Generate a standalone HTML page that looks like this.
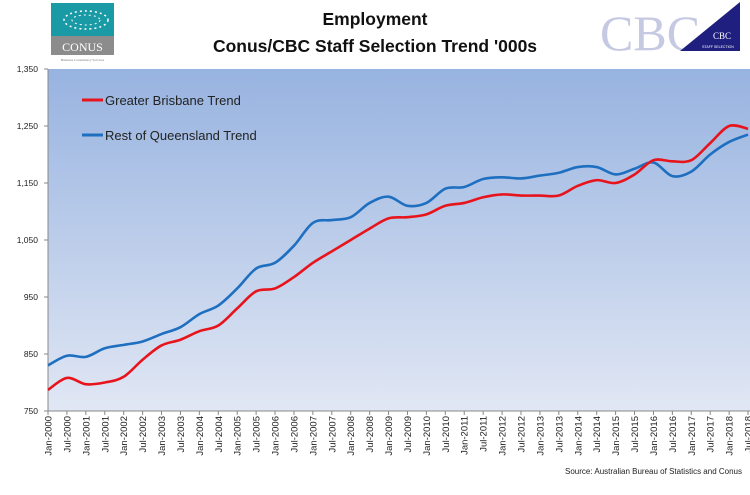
<!DOCTYPE html>
<html><head><meta charset="utf-8"><style>
body{margin:0;width:750px;height:490px;background:#fff;overflow:hidden;font-family:"Liberation Sans",sans-serif}
</style></head><body>
<svg id="s" width="750" height="490" xmlns="http://www.w3.org/2000/svg">
<defs>
<linearGradient id="g" x1="0" y1="0" x2="0" y2="1">
<stop offset="0" stop-color="#97b3e0"/><stop offset="1" stop-color="#e1e7f4"/>
</linearGradient>
</defs>
<rect x="48" y="69" width="702" height="342" fill="url(#g)"/>
<line x1="48" y1="69" x2="48" y2="411" stroke="#888" stroke-width="1"/>
<line x1="48" y1="411" x2="750" y2="411" stroke="#888" stroke-width="1"/>
<rect x="51" y="3" width="63" height="33" fill="#1a9aa5"/>
<rect x="51" y="36" width="63" height="19" fill="#8c8c8c"/>
<text x="82.5" y="51" font-family="Liberation Serif,serif" font-size="12" fill="#fff" text-anchor="middle">CONUS</text>
<text x="82.5" y="61" font-family="Liberation Serif,serif" font-size="3.5" fill="#777" text-anchor="middle">Business Consultancy Services</text>
<ellipse cx="86" cy="20" rx="22" ry="9" fill="none" stroke="#fff" stroke-width="1.5" stroke-dasharray="2 3"/>
<ellipse cx="86" cy="20" rx="14" ry="5" fill="none" stroke="#fff" stroke-width="1" stroke-dasharray="2 3"/>
<text x="600" y="50" font-family="Liberation Serif,serif" font-size="50" fill="#c5c9e2">CBC</text>
<polygon points="740,2 740,51 680,51" fill="#1f1f80"/>
<text x="722" y="39" font-family="Liberation Serif,serif" font-size="9" fill="#fff" text-anchor="middle">CBC</text>
<text x="718" y="48" font-size="3.5" fill="#fff" text-anchor="middle">STAFF SELECTION</text>
<text x="375" y="25" font-size="17.5" font-weight="bold" text-anchor="middle" fill="#111">Employment</text>
<text x="375" y="52" font-size="17.5" font-weight="bold" text-anchor="middle" fill="#111">Conus/CBC Staff Selection Trend '000s</text>
<line x1="82" y1="100" x2="103" y2="100" stroke="#e8141c" stroke-width="3"/>
<text x="105" y="105" font-size="13" fill="#222">Greater Brisbane Trend</text>
<line x1="82" y1="135" x2="103" y2="135" stroke="#1f6fc0" stroke-width="3"/>
<text x="105" y="140" font-size="13" fill="#222">Rest of Queensland Trend</text>
<text x="742" y="474" font-size="8" fill="#222" text-anchor="end">Source: Australian Bureau of Statistics and Conus</text>
<g id="ax"></g>
<path id="b" fill="none" stroke="#1f6fc0" stroke-width="2.6"/>
<path id="r" fill="none" stroke="#e8141c" stroke-width="2.6"/>
</svg>
<script>
var ax=document.getElementById('ax'),h='';
function Y(v){return 411-(v-750)*0.57}
var st=18.92;
[750,850,950,1050,1150,1250,1350].forEach(function(v){
 h+='<text x="38" y="'+(Y(v)+3)+'" font-size="8.5" text-anchor="end" fill="#222">'+(v>=1000?(v+'').replace(/^(\d)/,'$1,'):v)+'</text>';
 h+='<line x1="44" x2="48" y1="'+Y(v)+'" y2="'+Y(v)+'" stroke="#888"/>';
});
for(var i=0;i<38;i++){
 var x=48+i*st,yr=2000+Math.floor(i/2),l=(i%2?'Jul-':'Jan-')+yr;
 h+='<line x1="'+x+'" x2="'+x+'" y1="411" y2="415" stroke="#888"/>';
 h+='<text transform="translate('+(x+3.5)+',416) rotate(-90)" font-size="9.5" text-anchor="end" fill="#222">'+l+'</text>';
}
ax.innerHTML=h;
var B=[830,847,845,860,866,872,885,897,920,935,965,1000,1010,1040,1080,1085,1090,1115,1126,1110,1115,1140,1143,1157,1160,1158,1163,1168,1178,1178,1165,1175,1186,1162,1170,1200,1222,1235];
var R=[787,808,797,800,810,840,865,875,890,900,930,960,965,985,1010,1030,1050,1070,1088,1090,1095,1110,1115,1125,1130,1128,1128,1128,1145,1155,1150,1165,1190,1188,1190,1220,1250,1245];
function path(a){var p=a.map(function(v,i){return[48+i*st,Y(v)]}),d='M'+p[0];
 for(var i=0;i<p.length-1;i++){var p0=p[i-1]||p[i],p1=p[i],p2=p[i+1],p3=p[i+2]||p2;
 d+=' C'+(p1[0]+(p2[0]-p0[0])/6)+','+(p1[1]+(p2[1]-p0[1])/6)+' '+(p2[0]-(p3[0]-p1[0])/6)+','+(p2[1]-(p3[1]-p1[1])/6)+' '+p2;}
 return d;}
document.getElementById('b').setAttribute('d',path(B));
document.getElementById('r').setAttribute('d',path(R));
</script>
</body></html>
